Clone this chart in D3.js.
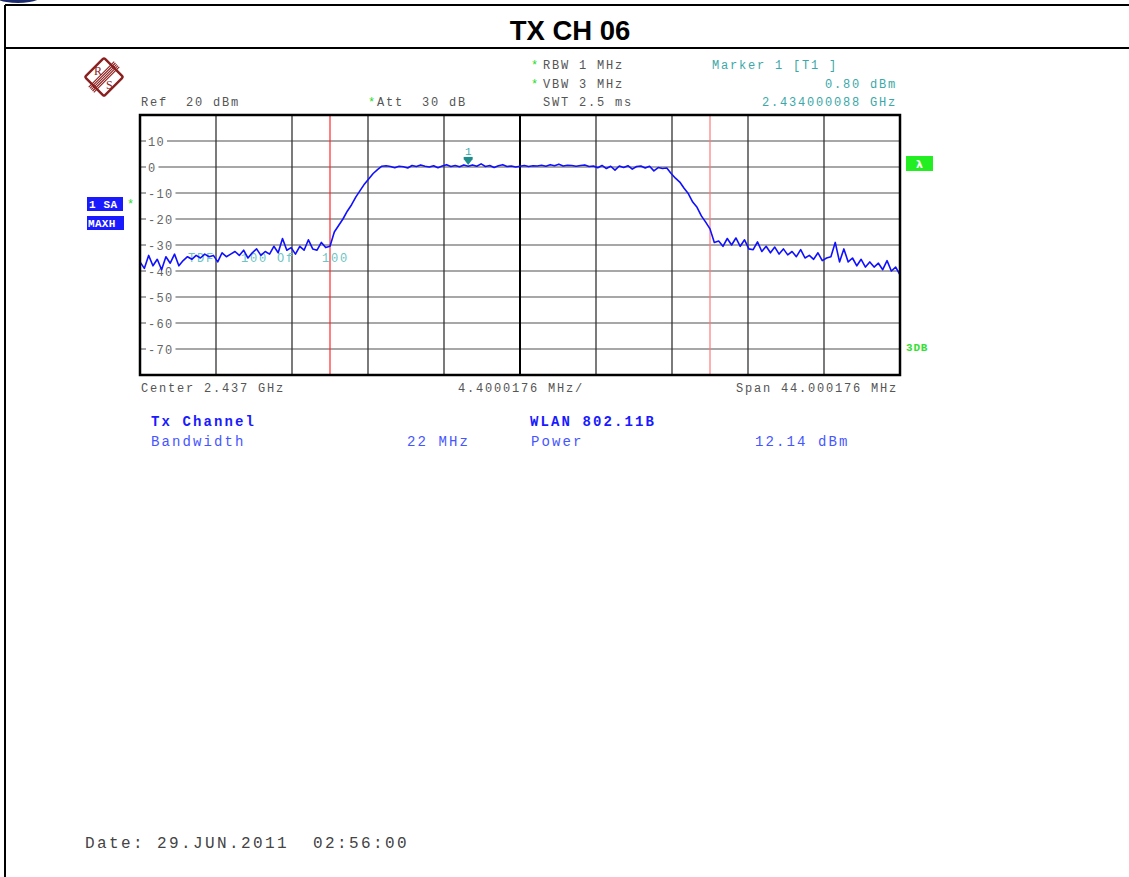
<!DOCTYPE html>
<html><head><meta charset="utf-8">
<script src="https://cdn.jsdelivr.net/npm/d3@7"></script>
<style>
html,body{margin:0;padding:0;background:#fff;}
svg{display:block;}
text{white-space:pre;}
</style></head>
<body>
<svg id="c" width="1129" height="877"></svg>
<script>
// ---------- data ----------
const title = "TX CH 06";
const centerMHz = 2437;
const spanMHz = 44.000176;
const refLevel = 20;           // dBm (top of screen)
const dbPerDiv = 10;
const yTickLabels = ["10", "0", "-10", "-20", "-30", "-40", "-50", "-60", "-70"];
const yTickValues = [10, 0, -10, -20, -30, -40, -50, -60, -70];
const channelBandwidthMHz = 22;
const markerFreqMHz = 2434.000088;
const markerLevel = 0.80;
// trace (dBm), evenly spread across the span
const traceDbm = [
  -36.5,-39,-34,-38,-35.5,-39.5,-34.5,-37,-33.5,-38,-36,
  -34.5,-35.5,-34,-35,-33.5,-34.5,-34,-36.5,-33,-34.5,
  -33.5,-32.5,-34,-32,-35,-33,-31.5,-34,-32.5,-33.5,
  -30.5,-33,-27.5,-32,-31,-33.5,-30.5,-32,-28,-31.5,
  -32,-29,-31,-30.5,
  -25,-22.5,-20,-17,-14.5,-11.5,-9,-6.5,-4.5,-2.5,-1,0.3,
  0.5,0.2,-0.3,0.3,0.1,-0.4,0.6,0.2,0.8,0.3,
  0.0,0.5,-0.3,0.4,0.9,0.2,0.6,0.1,0.8,0.3,
  0.8,0.3,1.2,0.2,0.6,-0.2,0.5,0.9,0.2,0.4,
  0.0,0.3,0.6,0.2,0.5,0.4,0.7,0.3,0.9,0.5,
  1.1,0.4,0.7,0.6,0.3,0.6,0.8,0.2,0.4,-0.3,
  0.6,-0.6,0.3,-1.2,0.4,-0.2,0.5,-0.8,0.2,0.4,
  -0.4,0.3,-1.5,-0.2,-0.6,-0.4,
  -2.5,-4.3,-5.8,-8.2,-10.3,-13.5,-15.5,-18.8,-21.2,-23.8,
  -29,-28.5,-30.5,-27.5,-30,-27.3,-30.5,-28,-31.5,
  -31.8,-28.8,-32.5,-30.5,-33,-30.8,-33.5,-31.5,-33.8,-32.5,
  -34.5,-31.8,-35,-34,-35.5,-33,-36,-35,-34.5,-29,
  -36.5,-31.5,-36.5,-35,-38,-35.5,-38.5,-36.5,-38.5,-37,
  -39.5,-36,-40,-38.5,-41.5
];
const headerLeft = ["Ref  20 dBm"];
const settings = ["RBW 1 MHz", "VBW 3 MHz", "SWT 2.5 ms"];
const markerInfo = ["Marker 1 [T1 ]", "0.80 dBm", "2.434000088 GHz"];
const bottomAxis = ["Center 2.437 GHz", "4.4000176 MHz/", "Span 44.000176 MHz"];
const txLabels = ["Tx Channel", "Bandwidth", "22 MHz"];
const stdLabels = ["WLAN 802.11B", "Power", "12.14 dBm"];
const lineLabels = ["TDF", "100", "Of", "100"];
const dateText = "Date: 29.JUN.2011  02:56:00";

// ---------- drawing ----------
const svg = d3.select("#c");
svg.append("rect").attr("width",1129).attr("height",877).attr("fill","#fff");

// decorative corner
svg.append("ellipse").attr("cx",18).attr("cy",-10).attr("rx",30).attr("ry",13).attr("fill","#1c2b6e");

// page frame
svg.append("line").attr("x1",5).attr("x2",5).attr("y1",5).attr("y2",877).attr("stroke","#000").attr("stroke-width",2);
svg.append("line").attr("x1",5).attr("x2",1129).attr("y1",5).attr("y2",5).attr("stroke","#000").attr("stroke-width",2);
svg.append("line").attr("x1",5).attr("x2",1129).attr("y1",48).attr("y2",48).attr("stroke","#000").attr("stroke-width",2);
svg.append("text").attr("x",570).attr("y",40).attr("text-anchor","middle")
  .attr("font-family","Arial, 'Liberation Sans', sans-serif").attr("font-weight","bold").attr("font-size",27.5)
  .text(title);

// R&S logo
const logoC = "#8b1f1f";
const logo = svg.append("g").attr("transform","translate(104,77)");
logo.append("rect").attr("x",-13.5).attr("y",-13.5).attr("width",27).attr("height",27)
  .attr("transform","rotate(45)").attr("fill","#fff").attr("stroke",logoC).attr("stroke-width",2.4).attr("rx",1.5);
const band = logo.append("g").attr("transform","rotate(-45)");
[-3.6,-1.8,0,1.8,3.6].forEach(o=>band.append("line").attr("x1",-18).attr("x2",18).attr("y1",o).attr("y2",o)
  .attr("stroke",logoC).attr("stroke-width",1.1));
logo.append("text").attr("x",-10).attr("y",-2).attr("font-size",12).attr("fill",logoC).attr("font-family","Liberation Serif, serif").text("R");
logo.append("text").attr("x",2).attr("y",12).attr("font-size",12).attr("fill",logoC).attr("font-family","Liberation Serif, serif").text("S");

// scales
const x = d3.scaleLinear().domain([centerMHz - spanMHz/2, centerMHz + spanMHz/2]).range([140, 900]);
const y = d3.scaleLinear().domain([refLevel - 10*dbPerDiv, refLevel]).range([375, 115]);
const idx = d3.scaleLinear().domain([0, traceDbm.length-1]).range(x.domain());

const monoFont = "'Courier New','Liberation Mono',monospace";
function monoText(g, tx, ty, s, opts={}) {
  return g.append("text").attr("x",tx).attr("y",ty)
    .attr("font-family",monoFont)
    .attr("font-size",opts.size||12)
    .attr("letter-spacing",opts.ls!=null?opts.ls:1.8)
    .attr("fill",opts.fill||"#555")
    .attr("font-weight",opts.bold?"bold":"normal")
    .attr("text-anchor",opts.anchor||"start")
    .attr("xml:space","preserve")
    .text(s);
}

// header
const hdr = svg.append("g");
monoText(hdr,141,106,headerLeft[0]);
monoText(hdr,368,106,"*",{fill:"#22dd22",ls:0});
monoText(hdr,377,106,"Att  30 dB");
monoText(hdr,531,69,"*",{fill:"#22dd22",ls:0});
monoText(hdr,531,88,"*",{fill:"#22dd22",ls:0});
monoText(hdr,543,69,settings[0]);
monoText(hdr,543,88,settings[1]);
monoText(hdr,543,106,settings[2]);
monoText(hdr,712,69,markerInfo[0],{fill:"#3aa8a8"});
monoText(hdr,897,88,markerInfo[1],{fill:"#3aa8a8",anchor:"end"});
monoText(hdr,897,106,markerInfo[2],{fill:"#3aa8a8",anchor:"end"});

// grid
const grid = svg.append("g");
const xTicks = d3.range(11).map(i => x.domain()[0] + i*spanMHz/10);
grid.selectAll(".hg").data(yTickValues).join("line")
  .attr("x1",140).attr("x2",900).attr("y1",d=>y(d)).attr("y2",d=>y(d))
  .attr("stroke","#8a8a8a").attr("stroke-width",1.6);
grid.selectAll(".vg").data(xTicks.slice(1,-1)).join("line")
  .attr("x1",d=>x(d)).attr("x2",d=>x(d)).attr("y1",115).attr("y2",375)
  .attr("stroke",(d,i)=>i===4?"#000":"#333").attr("stroke-width",(d,i)=>i===4?2:1.3);

// y labels with knockout
const yl = svg.append("g");
yTickValues.forEach((v,i)=>{
  const w = yTickLabels[i].length*8.5;
  yl.append("rect").attr("x",146).attr("y",y(v)-5).attr("width",w+4).attr("height",10).attr("fill","#fff");
  monoText(yl,148,y(v)+4.5,yTickLabels[i],{size:12,ls:1.3,fill:"#666"});
});

// channel lines
[centerMHz - channelBandwidthMHz/2, centerMHz + channelBandwidthMHz/2].forEach((f,i)=>{
  svg.append("line").attr("x1",x(f)).attr("x2",x(f)).attr("y1",115).attr("y2",375)
    .attr("stroke",i===0?"#ff2a2a":"#ff7a7a").attr("stroke-width",1.2);
});

// line labels (teal)
const llx = [188, 241, 277, 322];
lineLabels.forEach((s,i)=>monoText(svg,llx[i],262,s,{fill:"#6cc4c4",size:12,ls:1.8}));

// trace
const line = d3.line().x((d,i)=>x(idx(i))).y(d=>y(d));
svg.append("path").datum(traceDbm).attr("d",line).attr("fill","none")
  .attr("stroke","#1010ff").attr("stroke-width",1.6).attr("stroke-linejoin","round");

// frame
svg.append("rect").attr("x",140).attr("y",115).attr("width",760).attr("height",260)
  .attr("fill","none").attr("stroke","#000").attr("stroke-width",2.5);

// marker
const mx = x(markerFreqMHz), my = y(markerLevel);
svg.append("path").attr("d",`M${mx-4.5},${my-6}L${mx+4.5},${my-6}L${mx},${my}Z`).attr("fill","#1f8c8c");
svg.append("rect").attr("x",mx-4.5).attr("y",my-8).attr("width",9).attr("height",2.5).attr("fill","#1f8c8c");
monoText(svg,mx,my-10,"1",{fill:"#3aa8a8",anchor:"middle",ls:0,size:11});

// left trace info boxes
svg.append("rect").attr("x",87).attr("y",197).attr("width",36).attr("height",14).attr("fill","#1a1aff");
monoText(svg,89,208,"1 SA",{fill:"#fff",bold:true,size:11,ls:0.6});
svg.append("rect").attr("x",87).attr("y",216).attr("width",37).attr("height",14).attr("fill","#1a1aff");
monoText(svg,88,227,"MAXH",{fill:"#fff",bold:true,size:11,ls:0.3});
monoText(svg,127,208,"*",{fill:"#22dd22",ls:0});

// right indicators
svg.append("rect").attr("x",906).attr("y",156).attr("width",27).attr("height",15).attr("fill","#22ee22");
svg.append("text").attr("x",919.5).attr("y",168).attr("text-anchor","middle").attr("fill","#fff")
  .attr("font-family","DejaVu Sans, sans-serif").attr("font-weight","bold").attr("font-size",11).text("λ");
monoText(svg,906,351,"3DB",{fill:"#33e033",bold:true,size:11,ls:0.8});

// bottom axis annotations
monoText(svg,141,392,bottomAxis[0]);
monoText(svg,458,392,bottomAxis[1]);
monoText(svg,898,392,bottomAxis[2],{anchor:"end"});

// measurement results
monoText(svg,151,426,txLabels[0],{fill:"#1a1aff",bold:true,size:14,ls:2.1});
monoText(svg,151,446,txLabels[1],{fill:"#4656ff",size:14,ls:2.1});
monoText(svg,407,446,txLabels[2],{fill:"#4656ff",size:14,ls:2.1});
monoText(svg,530,426,stdLabels[0],{fill:"#1a1aff",bold:true,size:14,ls:2.1});
monoText(svg,531,446,stdLabels[1],{fill:"#4656ff",size:14,ls:2.1});
monoText(svg,755,446,stdLabels[2],{fill:"#4656ff",size:14,ls:2.1});

// date
monoText(svg,85,848,dateText,{fill:"#444",size:16,ls:2.4});
</script>
</body></html>
